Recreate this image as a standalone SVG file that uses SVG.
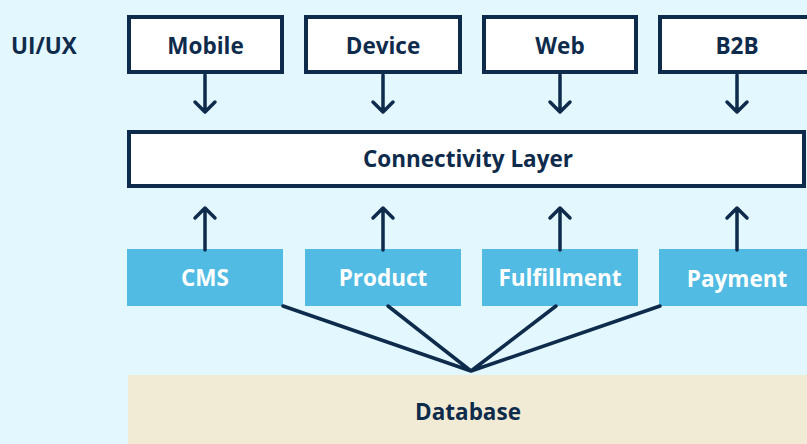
<svg xmlns="http://www.w3.org/2000/svg" width="807" height="444" viewBox="0 0 807 444">
  <style>
    .lbl { font-family: "Open Sans", "Liberation Sans", sans-serif; font-weight: 700; font-size: 22.5px; text-anchor: middle; }
    .dark { fill: #0e2b4c; }
    .light { fill: #ffffff; }
    .frame { fill: #ffffff; stroke: #0e2b4c; stroke-width: 4; }
    .svc { fill: #51bbe3; }
    .wire { fill: none; stroke: #0e2b4c; stroke-width: 3.5; stroke-linecap: round; stroke-linejoin: round; }
  </style>
  <defs>
    <path id="down" class="wire" d="M0,0 V36 M-10,27 L0,37 L10,27"/>
    <path id="up" class="wire" d="M0,42 V0 M-10,10 L0,0 L10,10"/>
  </defs>

  <rect x="0" y="0" width="807" height="444" fill="#e2f7fe"/>

  <text class="lbl dark" x="44" y="54">UI/UX</text>

  <g id="mobile">
    <rect class="frame" x="129" y="17" width="153" height="55"/>
    <text class="lbl dark" x="205.5" y="54">Mobile</text>
  </g>
  <g id="device">
    <rect class="frame" x="306" y="17" width="154" height="55"/>
    <text class="lbl dark" x="383" y="54">Device</text>
  </g>
  <g id="web">
    <rect class="frame" x="484" y="17" width="152" height="55"/>
    <text class="lbl dark" x="560" y="54">Web</text>
  </g>
  <g id="b2b">
    <rect class="frame" x="660" y="17" width="153" height="55"/>
    <text class="lbl dark" x="737" y="54">B2B</text>
  </g>

  <g id="connectivity">
    <rect class="frame" x="129" y="132" width="675" height="54"/>
    <text class="lbl dark" x="468" y="167">Connectivity Layer</text>
  </g>

  <g id="cms">
    <rect class="svc" x="127" y="249" width="156" height="57"/>
    <text class="lbl light" x="205" y="286">CMS</text>
  </g>
  <g id="product">
    <rect class="svc" x="305" y="249" width="156" height="57"/>
    <text class="lbl light" x="383" y="286">Product</text>
  </g>
  <g id="fulfillment">
    <rect class="svc" x="482" y="249" width="156" height="57"/>
    <text class="lbl light" x="560" y="286">Fulfillment</text>
  </g>
  <g id="payment">
    <rect class="svc" x="659" y="249" width="156" height="57"/>
    <text class="lbl light" x="737" y="287">Payment</text>
  </g>

  <g id="database">
    <rect x="128" y="375" width="690" height="75" fill="#f1ebd5"/>
    <text class="lbl dark" x="468" y="420">Database</text>
  </g>

  <g id="connectors">
    <use href="#down" x="205" y="75"/>
    <use href="#down" x="383" y="75"/>
    <use href="#down" x="560" y="75"/>
    <use href="#down" x="737" y="75"/>
    <use href="#up" x="205" y="208"/>
    <use href="#up" x="383" y="208"/>
    <use href="#up" x="560" y="208"/>
    <use href="#up" x="737" y="208"/>
    <path class="wire" d="M283,306 L471,371 M388,306 L471,371 M556,306 L471,371 M660,306 L471,371"/>
  </g>
</svg>
